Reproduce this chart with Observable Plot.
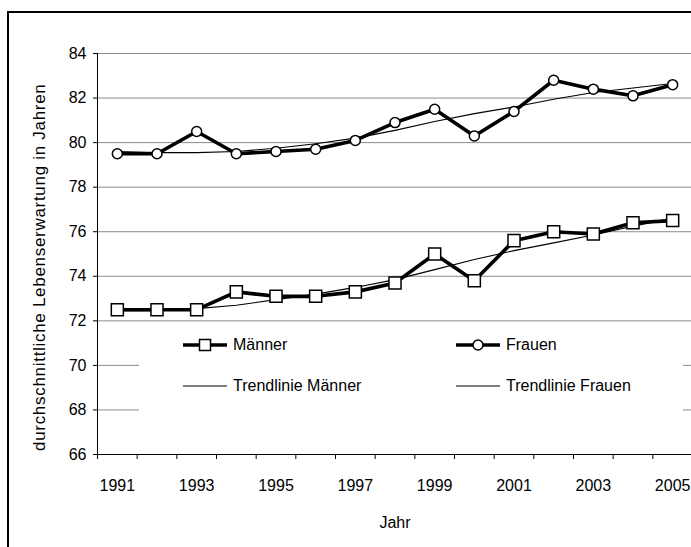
<!DOCTYPE html>
<html>
<head>
<meta charset="utf-8">
<script src="https://cdn.jsdelivr.net/npm/d3@7"></script>
<script src="https://cdn.jsdelivr.net/npm/@observablehq/plot@0.6"></script>
<style>
  html, body { margin: 0; padding: 0; background: #fff; overflow: hidden; }
  #wrap { position: relative; width: 691px; height: 547px; overflow: hidden; font-family: "Liberation Sans", Arial, sans-serif; }
  #border { position: absolute; left: 7px; top: 11px; width: 760px; height: 600px; border-left: 2px solid #000; border-top: 2px solid #000; box-sizing: border-box; }
  #chart { position: absolute; left: 0; top: 0; width: 691px; height: 547px; overflow: hidden; }
  #legend { position: absolute; left: 139px; top: 326px; width: 544px; height: 102px; background: #fff; }
  .item { position: absolute; display: flex; align-items: center; font-size: 16px; color: #000; white-space: nowrap; }
  .item svg { margin-right: 6px; }
  #ytitle { position: absolute; left: 28px; top: 451px; transform-origin: 0 0; transform: rotate(-90deg); font-size: 17px; line-height: 24px; height: 24px; letter-spacing: 0.7px; white-space: nowrap; color: #000; }
</style>
</head>
<body>
<div id="wrap">
  <div id="border"></div>
  <div id="chart"></div>
  <div id="legend"></div>
  <div id="ytitle"></div>
</div>
<script>
// ---- data ----
const years = [1991, 1992, 1993, 1994, 1995, 1996, 1997, 1998, 1999, 2000, 2001, 2002, 2003, 2004, 2005];
const maenner = [72.5, 72.5, 72.5, 73.3, 73.1, 73.1, 73.3, 73.7, 75.0, 73.8, 75.6, 76.0, 75.9, 76.4, 76.5];
const frauen  = [79.5, 79.5, 80.5, 79.5, 79.6, 79.7, 80.1, 80.9, 81.5, 80.3, 81.4, 82.8, 82.4, 82.1, 82.6];
const trendMaenner = [72.45, 72.45, 72.55, 72.7, 72.95, 73.2, 73.5, 73.85, 74.3, 74.75, 75.15, 75.5, 75.85, 76.25, 76.6];
const trendFrauen  = [79.6, 79.55, 79.55, 79.6, 79.75, 79.95, 80.2, 80.55, 80.95, 81.3, 81.6, 81.95, 82.25, 82.45, 82.65];
const yTicks = [66, 68, 70, 72, 74, 76, 78, 80, 82, 84];
const xTickLabels = [1991, 1993, 1995, 1997, 1999, 2001, 2003, 2005];
const seriesNames = ["Männer", "Frauen", "Trendlinie Männer", "Trendlinie Frauen"];
const yTitle = "durchschnittliche Lebenserwartung in Jahren";
const xTitle = "Jahr";

// ---- tables ----
const rowsM = years.map((y, i) => ({year: y, value: maenner[i]}));
const rowsF = years.map((y, i) => ({year: y, value: frauen[i]}));
const rowsTM = years.map((y, i) => ({year: y, value: trendMaenner[i]}));
const rowsTF = years.map((y, i) => ({year: y, value: trendFrauen[i]}));
const bounds = years.map(y => y - 0.5).concat([years[years.length - 1] + 0.5]);
const xDomain = [bounds[0], bounds[bounds.length - 1]];
const yDomain = [yTicks[0], yTicks[yTicks.length - 1]];

const chart = Plot.plot({
  width: 696,
  height: 547,
  marginLeft: 97,
  marginRight: 4,
  marginTop: 53,
  marginBottom: 93,
  style: {fontFamily: '"Liberation Sans", Arial, sans-serif', fontSize: "16px", color: "#000", background: "transparent", maxWidth: "none"},
  x: {type: "linear", domain: xDomain},
  y: {domain: yDomain},
  marks: [
    Plot.gridY(yTicks, {stroke: "#8c8c8c", strokeOpacity: 1, strokeWidth: 1}),
    Plot.ruleY([yDomain[0]], {stroke: "#000", strokeWidth: 1}),
    Plot.ruleX([xDomain[0]], {stroke: "#000", strokeWidth: 1}),
    Plot.axisY({ticks: yTicks, tickSize: 4, tickPadding: 7, tickFormat: d => String(d), label: null, stroke: "#000"}),
    Plot.axisX({ticks: bounds, tickSize: 5, tickFormat: () => "", label: null, stroke: "#000"}),
    Plot.axisX({ticks: xTickLabels, tickSize: 0, tickPadding: 25, tickFormat: d => String(d), label: xTitle, labelAnchor: "center", labelArrow: "none", labelOffset: 73}),
    Plot.line(rowsM, {x: "year", y: "value", stroke: "#000", strokeWidth: 3.6}),
    Plot.line(rowsF, {x: "year", y: "value", stroke: "#000", strokeWidth: 3.6}),
    Plot.line(rowsTM, {x: "year", y: "value", stroke: "#000", strokeWidth: 1.1}),
    Plot.line(rowsTF, {x: "year", y: "value", stroke: "#000", strokeWidth: 1.1}),
    Plot.dot(rowsM, {x: "year", y: "value", symbol: "square", r: 6.8, fill: "#fff", stroke: "#000", strokeWidth: 1.5}),
    Plot.dot(rowsF, {x: "year", y: "value", symbol: "circle", r: 5, fill: "#fff", stroke: "#000", strokeWidth: 1.5})
  ]
});
document.getElementById("chart").appendChild(chart);
document.getElementById("ytitle").textContent = yTitle;

// ---- legend ----
const legendPos = [
  {left: 183 - 139, top: 345 - 326},
  {left: 456 - 139, top: 345 - 326},
  {left: 183 - 139, top: 386 - 326},
  {left: 456 - 139, top: 386 - 326}
];
const ns = "http://www.w3.org/2000/svg";
seriesNames.forEach((name, i) => {
  const item = document.createElement("div");
  item.className = "item";
  item.style.left = legendPos[i].left + "px";
  item.style.top = (legendPos[i].top - 10) + "px";
  item.style.height = "20px";
  const s = document.createElementNS(ns, "svg");
  s.setAttribute("width", 44); s.setAttribute("height", 20);
  const ln = document.createElementNS(ns, "line");
  ln.setAttribute("x1", 0); ln.setAttribute("x2", 44); ln.setAttribute("y1", 10); ln.setAttribute("y2", 10);
  ln.setAttribute("stroke", "#000"); ln.setAttribute("stroke-width", i < 2 ? 3.6 : 1.1);
  s.appendChild(ln);
  if (i === 0) {
    const r = document.createElementNS(ns, "rect");
    r.setAttribute("x", 16.5); r.setAttribute("y", 4.5); r.setAttribute("width", 11); r.setAttribute("height", 11);
    r.setAttribute("fill", "#fff"); r.setAttribute("stroke", "#000"); r.setAttribute("stroke-width", 1.5);
    s.appendChild(r);
  } else if (i === 1) {
    const c = document.createElementNS(ns, "circle");
    c.setAttribute("cx", 22); c.setAttribute("cy", 10); c.setAttribute("r", 5);
    c.setAttribute("fill", "#fff"); c.setAttribute("stroke", "#000"); c.setAttribute("stroke-width", 1.5);
    s.appendChild(c);
  }
  item.appendChild(s);
  const t = document.createElement("span");
  t.textContent = name;
  item.appendChild(t);
  document.getElementById("legend").appendChild(item);
});
</script>
</body>
</html>
